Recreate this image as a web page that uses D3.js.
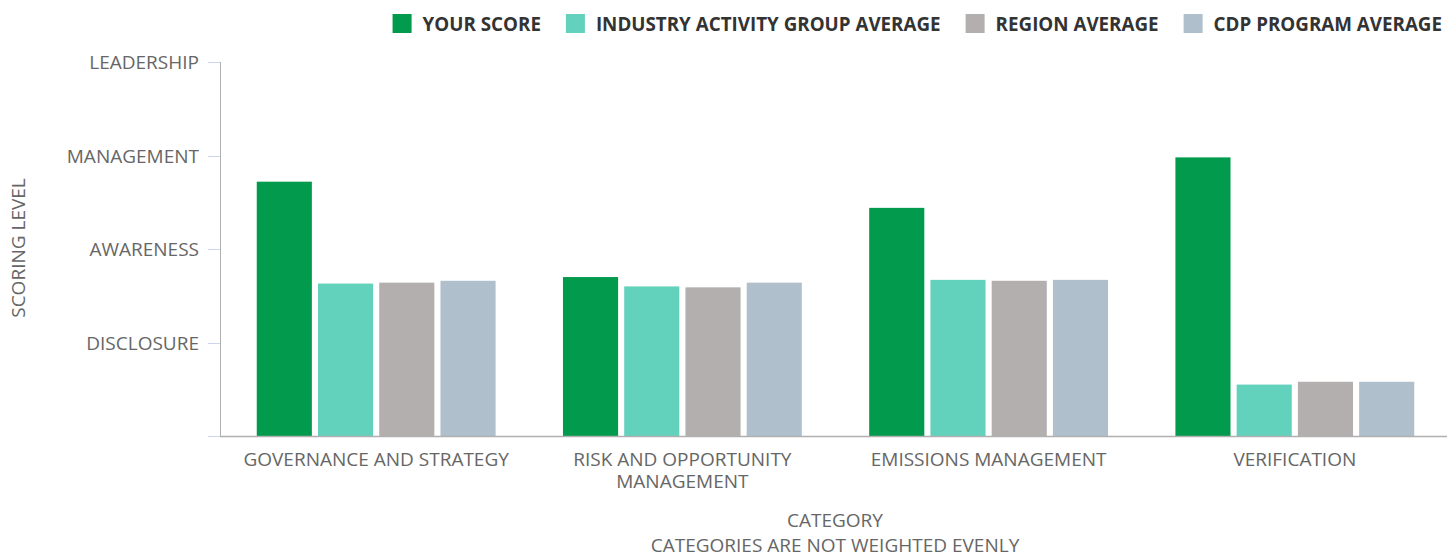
<!DOCTYPE html>
<html>
<head>
<meta charset="utf-8">
<script src="https://cdn.jsdelivr.net/npm/d3@7"></script>
<style>
  body { margin: 0; background: #fff; }
  text { font-family: "Open Sans", sans-serif; }
</style>
</head>
<body>
<div id="root"></div>
<script>
var categories = [["GOVERNANCE AND STRATEGY"], ["RISK AND OPPORTUNITY", "MANAGEMENT"], ["EMISSIONS MANAGEMENT"], ["VERIFICATION"]];
var seriesNames = ["YOUR SCORE", "INDUSTRY ACTIVITY GROUP AVERAGE", "REGION AVERAGE", "CDP PROGRAM AVERAGE"];
var seriesColors = ["#029a4d", "#62d2bd", "#b3afae", "#afc0cc"];
var yourScore = [2.72, 1.70, 2.44, 2.98];
var industryAvg = [1.63, 1.60, 1.67, 0.55];
var regionAvg = [1.64, 1.59, 1.66, 0.58];
var cdpAvg = [1.66, 1.64, 1.67, 0.58];
var levelTicks = [1, 2, 3, 4];
var levelLabels = ["DISCLOSURE", "AWARENESS", "MANAGEMENT", "LEADERSHIP"];

var allSeries = [yourScore, industryAvg, regionAvg, cdpAvg];
var width = 1447, height = 556;
var plotLeft = 220, plotRight = 1451, plotTop = 62, plotBottom = 436;
var fontSize = 19;

var svg = d3.select("#root").append("svg")
    .attr("width", width)
    .attr("height", height);

var catKeys = categories.map(function (c) { return c.join(" "); });
var x0 = d3.scaleBand().domain(catKeys).range([plotLeft, plotRight])
    .paddingInner(0.22).paddingOuter(0.12);
var x1 = d3.scaleBand().domain(d3.range(seriesNames.length)).range([0, x0.bandwidth()])
    .paddingInner(0.1).paddingOuter(0);
var y = d3.scaleLinear().domain([0, 4]).range([plotBottom, plotTop]);

// y ticks
var yTicks = svg.append("g");
yTicks.selectAll("line").data([0].concat(levelTicks)).enter().append("line")
    .attr("x1", 208).attr("x2", plotLeft)
    .attr("y1", function (d) { return Math.round(y(d)) + 0.5; })
    .attr("y2", function (d) { return Math.round(y(d)) + 0.5; })
    .attr("stroke", "#ccd6eb").attr("stroke-width", 1);
yTicks.selectAll("text").data(levelTicks).enter().append("text")
    .attr("x", 199)
    .attr("y", function (d) { return y(d) + 7; })
    .attr("text-anchor", "end")
    .attr("font-size", fontSize)
    .attr("fill", "#666")
    .text(function (d, i) { return levelLabels[i]; });

// y axis line
svg.append("line")
    .attr("x1", plotLeft + 0.5).attr("x2", plotLeft + 0.5)
    .attr("y1", plotTop).attr("y2", plotBottom)
    .attr("stroke", "#b0b0b0");

// bars
var groups = svg.append("g").selectAll("g").data(catKeys).enter().append("g")
    .attr("transform", function (d) { return "translate(" + x0(d) + ",0)"; });
groups.selectAll("rect")
    .data(function (d, ci) { return allSeries.map(function (s, si) { return { si: si, v: s[ci] }; }); })
    .enter().append("rect")
    .attr("x", function (d) { return x1(d.si); })
    .attr("width", x1.bandwidth())
    .attr("y", function (d) { return y(d.v); })
    .attr("height", function (d) { return y(0) - y(d.v); })
    .attr("fill", function (d) { return seriesColors[d.si]; });

// baseline
svg.append("line")
    .attr("x1", plotLeft).attr("x2", width)
    .attr("y1", plotBottom + 0.5).attr("y2", plotBottom + 0.5)
    .attr("stroke", "#b0b0b0").attr("stroke-width", 1.5);

// category labels
svg.append("g").selectAll("text").data(categories).enter().append("text")
    .attr("x", function (d, i) { return x0(catKeys[i]) + x0.bandwidth() / 2; })
    .attr("y", 466)
    .attr("text-anchor", "middle")
    .attr("font-size", fontSize)
    .attr("fill", "#666")
    .each(function (d) {
        var t = d3.select(this);
        d.forEach(function (line, li) {
            t.append("tspan").attr("x", t.attr("x")).attr("dy", li ? 22 : 0).text(line);
        });
    });

// axis titles
svg.append("text")
    .attr("transform", "translate(25,248) rotate(-90)")
    .attr("text-anchor", "middle")
    .attr("font-size", fontSize)
    .attr("fill", "#666")
    .text("SCORING LEVEL");
svg.append("text")
    .attr("x", 835).attr("y", 527)
    .attr("text-anchor", "middle")
    .attr("font-size", fontSize)
    .attr("fill", "#666")
    .text("CATEGORY");
svg.append("text")
    .attr("x", 835).attr("y", 552)
    .attr("text-anchor", "middle")
    .attr("font-size", fontSize)
    .attr("fill", "#666")
    .text("CATEGORIES ARE NOT WEIGHTED EVENLY");

// legend, laid out right to left from the right edge
var legend = svg.append("g");
var lx = 1442;
for (var i = seriesNames.length - 1; i >= 0; i--) {
    var g = legend.append("g");
    var t = g.append("text")
        .attr("y", 31)
        .attr("font-size", 18.8)
        .attr("font-weight", "bold")
        .attr("fill", "#333")
        .text(seriesNames[i]);
    var w = t.node().getComputedTextLength();
    var tx = lx - w;
    t.attr("x", tx);
    g.append("rect")
        .attr("x", tx - 30).attr("y", 14)
        .attr("width", 19).attr("height", 19)
        .attr("fill", seriesColors[i]);
    lx = tx - 30 - 25;
}
</script>
</body>
</html>
